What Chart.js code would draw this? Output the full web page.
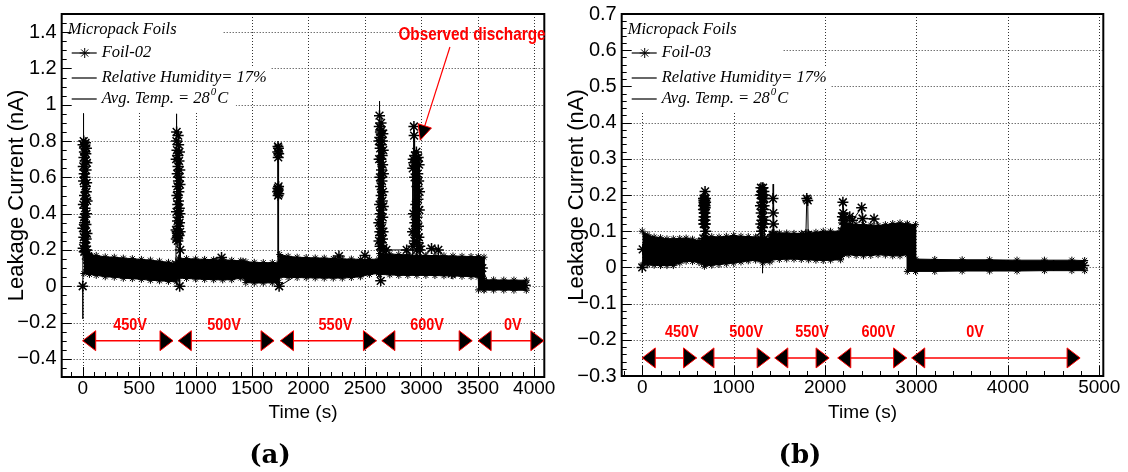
<!DOCTYPE html>
<html>
<head>
<meta charset="utf-8">
<script src="https://cdn.jsdelivr.net/npm/chart.js@4/dist/chart.umd.min.js"></script>
<style>
body { margin: 0; background: #fff; width: 1128px; height: 472px; position: relative; overflow: hidden; }
.pane { position: absolute; top: 0; height: 472px; }
#pa { left: 0; width: 560px; }
#pb { left: 560px; width: 568px; }
</style>
</head>
<body>
<div class="pane" id="pa"><canvas id="chartA"></canvas></div>
<div class="pane" id="pb"><canvas id="chartB"></canvas></div>
<script>
// ---- panel (a) : Foil-02 ----
// discharge spikes + a few points on the band (time in s, current in nA)
var timeA = [0, 1,
	2, 3, 4, 5, 6, 7, 8, 9, 10, 11, 12, 13, 14, 15, 16, 17, 18, 19, 20, 21,
	22, 23, 24, 25, 26, 27, 28, 29, 30, 31, 32, 33, 34, 35, 36, 37, 38, 39, 40, 41,
	300, 600,
	826, 827, 828, 829, 830, 831, 832, 833, 834, 835, 836, 837, 838, 839, 840, 841, 842, 843, 844, 845,
	846, 847, 848, 849, 850, 851, 852, 853, 854, 855, 856, 857, 858, 859, 860, 861, 862, 863, 864, 865,
	1230, 1500,
	1725, 1727, 1728, 1729, 1730, 1731, 1732, 1733, 1734, 1735, 1736, 1737, 1738, 1740,
	2000, 2270, 2400, 2500,
	2622, 2623, 2624, 2625, 2626, 2627, 2628, 2629, 2630, 2631, 2632, 2633, 2634, 2635, 2636,
	2637, 2638, 2639, 2640, 2641, 2642, 2643, 2644, 2645, 2646, 2647, 2648, 2649, 2650, 2651,
	2652, 2653, 2654, 2655, 2656, 2657, 2658, 2659, 2660, 2661, 2662, 2663, 2664, 2665, 2666,
	2690, 2870,
	2920, 2922, 2924, 2926, 2928, 2930, 2932, 2934, 2936, 2938, 2940, 2942, 2944, 2946, 2948, 2950, 2952, 2954,
	2956, 2958, 2960, 2962, 2964, 2966, 2968, 2970, 2972, 2974, 2976, 2978, 2980, 2982, 2984, 2986, 2988, 2990,
	3090, 3150, 3270, 3400, 3540,
	3600, 3750, 3920];
var currentA = [0, -0.18,
	0.32, 0.78, 0.21, 0.66, 0.45, 0.95, 0.58, 0.8, 0.27, 0.71, 0.38, 0.62, 0.19, 0.74, 0.5, 0.35, 0.77, 0.24, 0.6, 0.43,
	0.69, 0.3, 0.55, 0.79, 0.22, 0.48, 0.73, 0.34, 0.64, 0.26, 0.52, 0.76, 0.4, 0.57, 0.2, 0.68, 0.29, 0.47, 0.18, 0.15,
	0.1, 0.09,
	0.12, 0.31, 0.7, 0.26, 0.8, 0.41, 0.85, 0.95, 0.5, 0.75, 0.3, 0.62, 0.27, 0.55, 0.36, 0.72, 0.45, 0.25, 0.66, 0.38,
	0.83, 0.29, 0.58, 0.47, 0.78, 0.33, 0.52, 0.69, 0.28, 0.6, 0.43, 0.74, 0.35, 0.0, 0.64, 0.4, 0.56, 0.3, 0.2, 0.12,
	0.158, 0.08,
	0.1, 0.52, 0.74, 0.54, 0.77, 0.5, 0.71, 0.53, 0.76, 0.55, 0.73, 0.51, 0.1, 0.0,
	0.1, 0.166, 0.1, 0.17,
	0.12, 0.35, 0.8, 0.25, 0.7, 0.88, 1.02, 0.94, 0.45, 0.82, 0.3, 0.6, 0.22, 0.76, 0.4,
	0.85, 0.28, 0.55, 0.03, 0.7, 0.35, 0.9, 0.5, 0.78, 0.24, 0.64, 0.42, 0.86, 0.32, 0.58,
	0.2, 0.72, 0.47, 0.8, 0.26, 0.67, 0.38, 0.84, 0.52, 0.3, 0.75, 0.44, 0.62, 0.21, 0.15,
	0.2, 0.2,
	0.15, 0.3, 0.65, 0.22, 0.7, 0.4, 0.68, 0.88, 0.83, 0.25, 0.6, 0.35, 0.72, 0.3, 0.66, 0.45, 0.7, 0.28,
	0.74, 0.2, 0.55, 0.38, 0.69, 0.24, 0.62, 0.48, 0.71, 0.33, 0.58, 0.27, 0.67, 0.42, 0.52, 0.22, 0.2, 0.15,
	0.208, 0.2, 0.07, 0.11, 0.1,
	0.005, 0.005, 0.005];
// upper / lower edge of the dense noise band
var bandTimeA = [10, 60, 120, 200, 280, 360, 440, 520, 600, 680, 760, 830,
	848, 920, 1000, 1080, 1160, 1240, 1320, 1400, 1420, 1445, 1520, 1600, 1680, 1735,
	1745, 1820, 1900, 1980, 2060, 2140, 2220, 2300, 2380, 2460, 2540, 2620,
	2630, 2720, 2800, 2880, 2960, 3040, 3120, 3200, 3280, 3360, 3440, 3505,
	3506, 3555, 3556, 3640, 3730, 3820, 3930];
var bandHighA = [0.185, 0.175, 0.17, 0.162, 0.16, 0.155, 0.152, 0.148, 0.144, 0.138, 0.132, 0.125,
	0.155, 0.152, 0.15, 0.148, 0.146, 0.145, 0.143, 0.14, 0.138, 0.135, 0.132, 0.13, 0.13, 0.128,
	0.175, 0.165, 0.16, 0.158, 0.156, 0.155, 0.153, 0.15, 0.15, 0.148, 0.148, 0.15,
	0.18, 0.178, 0.175, 0.173, 0.17, 0.17, 0.169, 0.168, 0.167, 0.165, 0.164, 0.162,
	0.162, 0.16, 0.035, 0.035, 0.034, 0.034, 0.033];
var bandLowA = [0.07, 0.065, 0.06, 0.052, 0.05, 0.044, 0.042, 0.038, 0.033, 0.03, 0.027, 0.024,
	0.045, 0.043, 0.04, 0.038, 0.036, 0.035, 0.036, 0.045, 0.05, 0.02, 0.018, 0.018, 0.019, 0.02,
	0.05, 0.049, 0.048, 0.047, 0.046, 0.045, 0.045, 0.045, 0.048, 0.052, 0.065, 0.07,
	0.065, 0.063, 0.06, 0.06, 0.06, 0.06, 0.059, 0.058, 0.057, 0.055, 0.053, 0.05,
	-0.02, -0.02, -0.02, -0.021, -0.021, -0.022, -0.022];
var xTicksA = [0, 500, 1000, 1500, 2000, 2500, 3000, 3500, 4000];
var yTicksA = [-0.4, -0.2, 0, 0.2, 0.4, 0.6, 0.8, 1, 1.2, 1.4];
var stepNamesA = ['450V', '500V', '550V', '600V', '0V'];
var stepFromA = [0, 847, 1752, 2650, 3503];
var stepToA = [800, 1695, 2602, 3450, 4085];
var stepTextA = [420, 1252, 2239, 3051, 3810];

// ---- panel (b) : Foil-03 ----
var timeB = [0, 5, 200, 400, 600,
	668, 669, 670, 671, 672, 673, 674, 675, 676, 677, 678, 679, 680, 681,
	682, 683, 684, 685, 686, 687, 688, 689, 690, 691, 692, 693, 694, 695,
	1000,
	1291, 1293, 1295, 1297, 1299, 1301, 1303, 1305, 1307, 1309, 1311, 1313, 1315,
	1317, 1319, 1321, 1323, 1325, 1327, 1329, 1331, 1333, 1335, 1337, 1339,
	1425, 1430, 1432, 1434, 1436, 1440,
	1600, 1790, 1800, 1810, 1815, 2000,
	2185, 2190, 2195, 2200, 2205, 2210, 2215,
	2270, 2300, 2400, 2410, 2536, 2700, 2880,
	3000, 3500, 4000, 4500, 4830];
var currentB = [0, 0.05, 0.04, 0.045, 0.04,
	0.08, 0.16, 0.19, 0.17, 0.13, 0.12, 0.185, 0.18, 0.14, 0.15, 0.175, 0.19, 0.16, 0.16,
	0.12, 0.175, 0.185, 0.13, 0.15, 0.21, 0.17, 0.165, 0.14, 0.12, 0.19, 0.18, 0.1, 0.07,
	0.05,
	0.08, 0.17, 0.2, 0.12, 0.22, 0.15, 0.2, 0.1, 0.21, 0.13, 0.18, 0.234, 0.11,
	-0.016, 0.19, 0.22, 0.14, 0.2, 0.16, 0.12, 0.21, 0.17, 0.13, 0.19, 0.08,
	0.09, 0.19, 0.23, 0.15, 0.12, 0.09,
	0.06, 0.09, 0.19, 0.185, 0.09, 0.06,
	0.1, 0.14, 0.18, 0.15, 0.13, 0.14, 0.12,
	0.14, 0.13, 0.165, 0.135, 0.134, 0.08, 0.08,
	0.005, 0.005, 0.005, 0.005, 0.005];
var bandTimeB = [0, 60, 130, 200, 270, 340, 410, 480, 550, 620, 650,
	680, 760, 840, 920, 1000, 1080, 1160, 1240, 1320, 1395,
	1420, 1500, 1580, 1660, 1740, 1820, 1900, 1980, 2060, 2170,
	2180, 2260, 2340, 2420, 2500, 2580, 2660, 2740, 2820, 2899,
	2900, 2990, 2991, 3200, 3500, 3800, 4100, 4400, 4700, 4840];
var bandHighB = [0.1, 0.09, 0.084, 0.082, 0.079, 0.079, 0.08, 0.081, 0.078, 0.074, 0.072,
	0.088, 0.085, 0.084, 0.086, 0.088, 0.086, 0.085, 0.084, 0.08, 0.08,
	0.094, 0.095, 0.095, 0.094, 0.094, 0.094, 0.097, 0.1, 0.1, 0.1,
	0.123, 0.121, 0.119, 0.118, 0.117, 0.116, 0.118, 0.121, 0.123, 0.12,
	0.12, 0.118, 0.023, 0.022, 0.021, 0.021, 0.02, 0.02, 0.02, 0.019];
var bandLowB = [0.007, 0.007, 0.006, 0.005, 0.005, 0.005, 0.012, 0.017, 0.016, 0.014, 0.012,
	0.003, 0.006, 0.008, 0.01, 0.012, 0.015, 0.018, 0.02, 0.012, 0.015,
	0.021, 0.022, 0.023, 0.023, 0.022, 0.021, 0.02, 0.019, 0.02, 0.021,
	0.03, 0.035, 0.033, 0.032, 0.033, 0.035, 0.034, 0.032, 0.032, 0.035,
	-0.011, -0.011, -0.011, -0.011, -0.01, -0.01, -0.01, -0.009, -0.009, -0.009];
var xTicksB = [0, 1000, 2000, 3000, 4000, 5000];
var yTicksB = [-0.3, -0.2, -0.1, 0, 0.1, 0.2, 0.3, 0.4, 0.5, 0.6, 0.7];
var stepNamesB = ['450V', '500V', '550V', '600V', '0V'];
var stepFromB = [0, 642, 1450, 2139, 2948];
var stepToB = [594, 1399, 2044, 2892, 4790];
var stepTextB = [432, 1137, 1858, 2583, 3641];

Chart.defaults.font.family = '"Liberation Sans", Arial, sans-serif';
Chart.defaults.color = '#000';

var SERIF = '"Liberation Serif", "Times New Roman", serif';

function tickText(v) {
	var s = String(Math.abs(v));
	return v < 0 ? '\u2212' + s : s;
}

function starAt(ctx, x, y, r) {
	ctx.beginPath();
	for (var k = 0; k < 4; k++) {
		var an = k * Math.PI / 4;
		ctx.moveTo(x - r * Math.cos(an), y - r * Math.sin(an));
		ctx.lineTo(x + r * Math.cos(an), y + r * Math.sin(an));
	}
	ctx.stroke();
}

function drawHead(ctx, x, y, ang, len, half) {
	var c = Math.cos(ang), s = Math.sin(ang);
	var bx = x - len * c, by = y - len * s;
	ctx.beginPath();
	ctx.moveTo(x, y);
	ctx.lineTo(bx - half * s, by + half * c);
	ctx.lineTo(bx + half * s, by - half * c);
	ctx.closePath();
	ctx.fillStyle = '#000';
	ctx.fill();
	ctx.strokeStyle = '#f00';
	ctx.lineWidth = 1;
	ctx.stroke();
}

function redText(ctx, text, x, y, size) {
	ctx.save();
	ctx.translate(x, y);
	ctx.scale(0.85, 1);
	ctx.font = 'bold ' + size + 'px "Liberation Sans", Arial, sans-serif';
	ctx.fillStyle = '#f00';
	ctx.textAlign = 'center';
	ctx.textBaseline = 'middle';
	ctx.fillText(text, 0, 0);
	ctx.restore();
}

function drawKey(ctx, a, name) {
	var font = 'italic 16.5px ' + SERIF;
	var ys = [16, 39, 64, 85];
	ctx.save();
	ctx.font = font;
	var w3 = ctx.measureText('Relative Humidity= 17%').width;
	var w4 = ctx.measureText('Avg. Temp. = 28').width;
	var wc = ctx.measureText('C').width;
	ctx.fillStyle = '#fff';
	ctx.fillRect(a.left + 1, a.top + 1, 160, 98);
	ctx.fillRect(a.left + 1, a.top + 52, 40 + w3 + 3, 22);
	ctx.fillRect(a.left + 1, a.top + 74, 40 + w4 + 14 + wc, 25);

	ctx.fillStyle = '#000';
	ctx.textBaseline = 'middle';
	ctx.textAlign = 'left';
	ctx.fillText('Micropack Foils', a.left + 6, a.top + ys[0]);
	ctx.fillText(name, a.left + 40, a.top + ys[1]);
	ctx.fillText('Relative Humidity= 17%', a.left + 40, a.top + ys[2]);
	ctx.fillText('Avg. Temp. = 28', a.left + 40, a.top + ys[3]);
	ctx.font = 'italic 11px ' + SERIF;
	ctx.fillText('0', a.left + 41 + w4, a.top + ys[3] - 7);
	var w0 = ctx.measureText('0').width;
	ctx.font = font;
	ctx.fillText('C', a.left + 42 + w4 + w0, a.top + ys[3]);

	ctx.strokeStyle = '#000';
	ctx.lineWidth = 1.2;
	for (var i = 1; i < 4; i++) {
		ctx.beginPath();
		ctx.moveTo(a.left + 10, a.top + ys[i]);
		ctx.lineTo(a.left + 35, a.top + ys[i]);
		ctx.stroke();
	}
	ctx.lineWidth = 1;
	starAt(ctx, a.left + 23, a.top + ys[1], 5);
	ctx.restore();
}

function makeFrame(p) {
	return {
		id: 'rootFrame',
		beforeDatasetsDraw: function(chart) {
			var ctx = chart.ctx, a = chart.chartArea, xs = chart.scales.x, ys = chart.scales.y;
			ctx.save();
			ctx.strokeStyle = '#333';
			ctx.lineWidth = 1;
			ctx.setLineDash([1, 2]);
			p.xTicks.forEach(function(v) {
				var x = Math.round(xs.getPixelForValue(v)) + 0.5;
				ctx.beginPath(); ctx.moveTo(x, a.top); ctx.lineTo(x, a.bottom); ctx.stroke();
			});
			p.yTicks.forEach(function(v) {
				var y = Math.round(ys.getPixelForValue(v)) + 0.5;
				ctx.beginPath(); ctx.moveTo(a.left, y); ctx.lineTo(a.right, y); ctx.stroke();
			});
			ctx.restore();
		},
		afterDatasetsDraw: function(chart) {
			var ctx = chart.ctx, a = chart.chartArea, xs = chart.scales.x, ys = chart.scales.y;
			ctx.save();
			drawKey(ctx, a, p.key);

			// frame
			ctx.strokeStyle = '#000';
			ctx.lineWidth = 2;
			ctx.strokeRect(a.left, a.top, a.right - a.left, a.bottom - a.top);

			// ticks drawn inside the frame
			ctx.lineWidth = 1;
			var xMaj = p.xTicks[1] - p.xTicks[0], yMaj = p.yTicks[1] - p.yTicks[0];
			var i, v, q, len, px;
			for (i = Math.ceil(p.xMin / p.xMinor); i * p.xMinor <= p.xMax; i++) {
				v = i * p.xMinor;
				q = v / xMaj;
				len = Math.abs(q - Math.round(q)) < 1e-6 ? 10 : 5;
				px = Math.round(xs.getPixelForValue(v)) + 0.5;
				ctx.beginPath(); ctx.moveTo(px, a.bottom); ctx.lineTo(px, a.bottom - len); ctx.stroke();
			}
			for (i = Math.ceil(p.yMin / p.yMinor - 1e-6); i * p.yMinor <= p.yMax + 1e-9; i++) {
				v = i * p.yMinor;
				q = v / yMaj;
				len = Math.abs(q - Math.round(q)) < 1e-6 ? 10 : 5;
				px = Math.round(ys.getPixelForValue(v)) + 0.5;
				ctx.beginPath(); ctx.moveTo(a.left, px); ctx.lineTo(a.left + len, px); ctx.stroke();
			}

			// voltage steps
			var ay = ys.getPixelForValue(p.arrowY), ty = ys.getPixelForValue(p.textY);
			for (i = 0; i < p.names.length; i++) {
				var x0 = xs.getPixelForValue(p.from[i]), x1 = xs.getPixelForValue(p.to[i]);
				ctx.strokeStyle = '#f00';
				ctx.lineWidth = 1.5;
				ctx.beginPath(); ctx.moveTo(x0, ay); ctx.lineTo(x1, ay); ctx.stroke();
				drawHead(ctx, x0, ay, Math.PI, 13, 10);
				drawHead(ctx, x1, ay, 0, 13, 10);
				redText(ctx, p.names[i], xs.getPixelForValue(p.at[i]), ty, 17);
			}

			if (p.note) {
				var n = p.note;
				var tx = xs.getPixelForValue(n.tail[0]), tyy = ys.getPixelForValue(n.tail[1]);
				var hx = xs.getPixelForValue(n.tip[0]), hy = ys.getPixelForValue(n.tip[1]);
				var ang = Math.atan2(hy - tyy, hx - tx);
				ctx.strokeStyle = '#f00';
				ctx.lineWidth = 1.2;
				ctx.beginPath(); ctx.moveTo(tx, tyy); ctx.lineTo(hx - 10 * Math.cos(ang), hy - 10 * Math.sin(ang)); ctx.stroke();
				drawHead(ctx, hx, hy, ang, 15, 7);
				redText(ctx, n.text, xs.getPixelForValue(n.at[0]), ys.getPixelForValue(n.at[1]), 18);
			}

			// caption
			ctx.fillStyle = '#000';
			ctx.font = 'bold 26px "DejaVu Serif", serif';
			ctx.textAlign = 'center';
			ctx.textBaseline = 'middle';
			ctx.fillText(p.caption, p.capX, 456);
			ctx.restore();
		}
	};
}

function buildChart(id, p) {
	var pts = p.t.map(function(t, i) { return {x: t, y: p.v[i]}; });
	var hi = p.bt.map(function(t, i) { return {x: t, y: p.bh[i]}; });
	var lo = p.bt.map(function(t, i) { return {x: t, y: p.bl[i]}; });
	return new Chart(document.getElementById(id), {
		type: 'line',
		data: {
			datasets: [{
				data: pts,
				borderColor: '#000',
				borderWidth: 1,
				pointStyle: 'star',
				pointRadius: function(c) { return c.raw && p.bare(c.raw.y) ? 0 : 5.5; },
				pointBorderColor: '#000',
				pointBorderWidth: 1.5,
				fill: false,
				tension: 0
			}, {
				data: hi,
				borderColor: '#000',
				borderWidth: 1,
				backgroundColor: '#000',
				pointStyle: 'star',
				pointRadius: 3.5,
				pointBorderColor: '#000',
				pointBorderWidth: 1,
				fill: '+1',
				tension: 0
			}, {
				data: lo,
				borderColor: '#000',
				borderWidth: 1,
				pointStyle: 'star',
				pointRadius: 3.5,
				pointBorderColor: '#000',
				pointBorderWidth: 1,
				fill: false,
				tension: 0
			}]
		},
		options: {
			responsive: true,
			maintainAspectRatio: false,
			animation: false,
			events: [],
			layout: {padding: {top: 14, right: p.padRight, left: 0, bottom: 0}},
			plugins: {legend: {display: false}, tooltip: {enabled: false}},
			scales: {
				x: {
					type: 'linear',
					min: p.xMin,
					max: p.xMax,
					grid: {display: false, drawTicks: false},
					border: {display: false},
					afterBuildTicks: function(s) { s.ticks = p.xTicks.map(function(v) { return {value: v}; }); },
					afterFit: function(s) { s.height = p.xh; s.paddingLeft = 0; s.paddingRight = 0; },
					ticks: {autoSkip: false, maxRotation: 0, minRotation: 0, padding: 0, color: '#000', font: {size: 19}, callback: tickText},
					title: {display: true, text: 'Time (s)', color: '#000', font: {size: 19}, padding: {top: 0, bottom: 48}}
				},
				y: {
					type: 'linear',
					min: p.yMin,
					max: p.yMax,
					grid: {display: false, drawTicks: false},
					border: {display: false},
					afterBuildTicks: function(s) { s.ticks = p.yTicks.map(function(v) { return {value: v}; }); },
					afterFit: function(s) { s.width = 61.7; s.paddingTop = 0; s.paddingBottom = 0; },
					ticks: {autoSkip: false, padding: 5, color: '#000', font: {size: 20}, callback: tickText},
					title: {display: true, text: 'Leakage Current (nA)', color: '#000', font: {size: 22}, padding: {top: 4, bottom: 0}}
				}
			}
		},
		plugins: [makeFrame(p)]
	});
}

buildChart('chartA', {
	t: timeA, v: currentA, bt: bandTimeA, bh: bandHighA, bl: bandLowA,
	xMin: -186, xMax: 4089, yMin: -0.5, yMax: 1.5,
	xTicks: xTicksA, yTicks: yTicksA, xMinor: 100, yMinor: 0.05,
	key: 'Foil-02',
	names: stepNamesA, from: stepFromA, to: stepToA, at: stepTextA,
	arrowY: -0.3, textY: -0.213,
	padRight: 15.7, xh: 95,
	bare: function(y) { return y < -0.1 || y > 0.945; },
	note: {text: 'Observed discharge', at: [3448, 1.384], tail: [3253, 1.318], tip: [2990, 0.805]},
	caption: '(a)', capX: 270
});

buildChart('chartB', {
	t: timeB, v: currentB, bt: bandTimeB, bh: bandHighB, bl: bandLowB,
	xMin: -225, xMax: 5044, yMin: -0.3, yMax: 0.7,
	xTicks: xTicksB, yTicks: yTicksB, xMinor: 200, yMinor: 0.02,
	key: 'Foil-03',
	names: stepNamesB, from: stepFromB, to: stepToB, at: stepTextB,
	arrowY: -0.25, textY: -0.18,
	padRight: 24.7, xh: 96,
	bare: function(y) { return y < -0.01 || y > 0.225; },
	caption: '(b)', capX: 240
});
</script>
</body>
</html>
